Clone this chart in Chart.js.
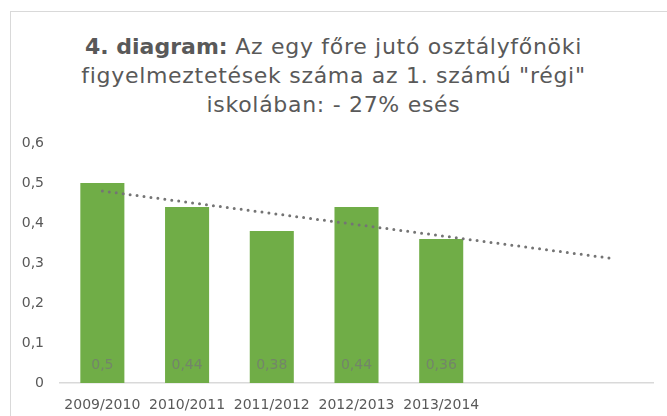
<!DOCTYPE html>
<html>
<head>
<meta charset="utf-8">
<script src="https://cdn.jsdelivr.net/npm/chart.js@4"></script>
<style>
  html, body { margin: 0; padding: 0; background: #fff; overflow: hidden; }
  #wrap { position: relative; width: 667px; height: 416px; }
  #frame {
    position: absolute; left: 10px; top: 11px; width: 700px; height: 450px;
    border-left: 1px solid #d9d9d9; border-top: 1px solid #d9d9d9;
  }
  #title {
    position: absolute; left: 0; top: 32px; width: 667px; text-align: center;
    font-family: "DejaVu Sans", sans-serif; font-size: 22px; line-height: 29px;
    color: #595959; letter-spacing: 0.7px;
  }
  #title b { font-weight: bold; letter-spacing: 0; }
  canvas { position: absolute; left: 0; top: 0; }
</style>
</head>
<body>
<div id="wrap">
  <div id="frame"></div>
  <div id="title"><b>4. diagram:</b> Az egy főre jutó osztályfőnöki<br>figyelmeztetések száma az 1. számú "régi"<br>iskolában: - 27% esés</div>
  <canvas id="chart" width="667" height="416"></canvas>
</div>
<script>
// Adatok
const years = ["2009/2010", "2010/2011", "2011/2012", "2012/2013", "2013/2014", "", ""];
const warnings = [0.5, 0.44, 0.38, 0.44, 0.36, null, null];
// lineáris trendvonal, két periódus előrejelzéssel (csak a végpontok)
const trend = [0.48, null, null, null, null, null, 0.312];
const yTicks = [0, 0.1, 0.2, 0.3, 0.4, 0.5, 0.6];

const fmt = v => v === 0 ? "0" : String(v).replace(".", ",");

// felirat az oszlopok aljára
const baseLabels = {
    id: "baseLabels",
    afterDatasetsDraw(chart) {
        const { ctx } = chart;
        const meta = chart.getDatasetMeta(1);
        const y0 = chart.scales.y.getPixelForValue(0);
        ctx.save();
        ctx.font = "14px 'DejaVu Sans'";
        ctx.fillStyle = "#738569";
        ctx.textAlign = "center";
        ctx.textBaseline = "middle";
        meta.data.forEach((bar, i) => {
            if (warnings[i] == null) return;
            ctx.fillText(fmt(warnings[i]), bar.x, y0 - 18);
        });
        ctx.restore();
    }
};

new Chart(document.getElementById("chart"), {
    data: {
        labels: years,
        datasets: [
            {
                type: "line",
                label: "Trend",
                data: trend,
                spanGaps: true,
                borderColor: "#747474",
                borderWidth: 3,
                borderDash: [0, 7],
                borderCapStyle: "round",
                pointRadius: 0,
                order: 0,
            },
            {
                type: "bar",
                label: "Figyelmeztetések",
                data: warnings,
                backgroundColor: "#70ad47",
                barPercentage: 0.52,
                categoryPercentage: 1,
                order: 1,
            },
        ],
    },
    options: {
        responsive: false,
        animation: false,
        layout: { padding: { left: 0, right: 14, top: 143, bottom: 0 } },
        plugins: {
            legend: { display: false },
            tooltip: { enabled: false },
        },
        scales: {
            x: {
                grid: { display: false, drawTicks: false },
                border: { color: "#d9d9d9", width: 1.5 },
                ticks: {
                    color: "#595959",
                    font: { family: "DejaVu Sans", size: 14 },
                    padding: 14,
                    maxRotation: 0,
                    autoSkip: false,
                },
                afterFit: s => { s.height = 33; },
            },
            y: {
                min: 0,
                max: 0.6,
                grid: { display: false, drawTicks: false },
                border: { display: false },
                afterBuildTicks: s => { s.ticks = yTicks.map(v => ({ value: v })); },
                ticks: {
                    color: "#595959",
                    font: { family: "DejaVu Sans", size: 14 },
                    padding: 16,
                    callback: v => fmt(Math.round(v * 10) / 10),
                },
                afterFit: s => { s.width = 60; },
            },
        },
    },
    plugins: [baseLabels],
});
</script>
</body>
</html>
